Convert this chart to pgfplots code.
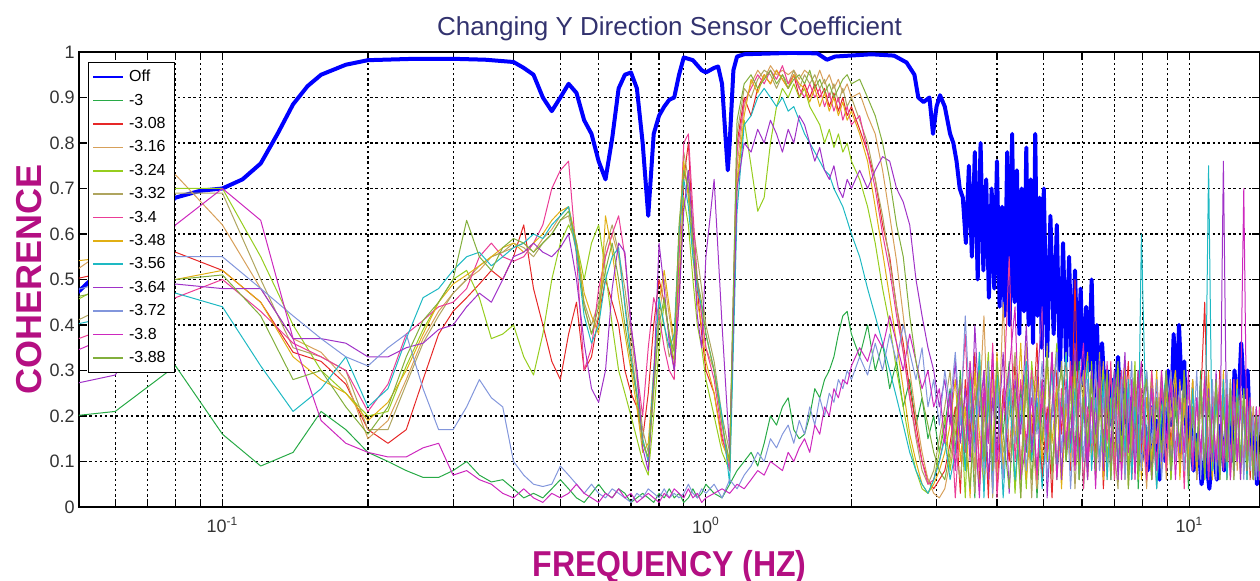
\documentclass[border=0pt]{standalone}
\usepackage{pgfplots}
\usepackage{pgfplotstable}
\usepackage{fontspec}
\setmainfont{Liberation Sans}
\pgfplotsset{compat=1.18}
\definecolor{offc}{RGB}{0,0,255}
\definecolor{ca}{RGB}{40,170,70}
\definecolor{cb}{RGB}{230,40,40}
\definecolor{cc}{RGB}{215,160,90}
\definecolor{cd}{RGB}{150,205,30}
\definecolor{ce}{RGB}{175,165,95}
\definecolor{cf}{RGB}{235,60,150}
\definecolor{cg}{RGB}{225,175,20}
\definecolor{ch}{RGB}{30,185,195}
\definecolor{ci}{RGB}{160,50,200}
\definecolor{cj}{RGB}{130,150,220}
\definecolor{ck}{RGB}{205,40,190}
\definecolor{cl}{RGB}{130,175,60}
\definecolor{labc}{RGB}{180,15,130}
\definecolor{titc}{RGB}{50,50,110}

\pgfplotstableread{
f y
0.05 0.47
0.06 0.55
0.07 0.62
0.08 0.68
0.09 0.695
0.10 0.70
0.11 0.72
0.12 0.755
0.13 0.82
0.14 0.885
0.15 0.925
0.16 0.95
0.18 0.972
0.20 0.982
0.25 0.985
0.30 0.985
0.35 0.983
0.40 0.978
0.42 0.965
0.44 0.95
0.46 0.90
0.48 0.87
0.50 0.90
0.52 0.93
0.54 0.91
0.56 0.85
0.58 0.82
0.60 0.76
0.62 0.72
0.64 0.81
0.66 0.92
0.68 0.95
0.70 0.955
0.72 0.92
0.74 0.80
0.76 0.64
0.78 0.82
0.80 0.86
0.82 0.88
0.84 0.895
0.86 0.90
0.88 0.95
0.90 0.988
0.94 0.982
0.98 0.96
1.00 0.955
1.04 0.965
1.06 0.968
1.08 0.93
1.10 0.80
1.11 0.74
1.12 0.80
1.14 0.96
1.16 0.99
1.20 0.995
1.50 0.998
1.70 0.997
1.78 0.983
1.85 0.99
2.20 0.995
2.45 0.992
2.60 0.977
2.70 0.95
2.75 0.90
2.82 0.89
2.90 0.90
2.95 0.82
3.00 0.88
3.05 0.905
3.12 0.88
3.20 0.82
3.25 0.80
3.30 0.76
3.35 0.70
3.40 0.68
3.45 0.58
3.50 0.75
3.55 0.55
3.60 0.78
3.65 0.50
3.70 0.80
3.75 0.52
3.80 0.72
3.85 0.46
3.90 0.70
3.95 0.48
4.00 0.76
4.05 0.44
4.10 0.66
4.15 0.42
4.20 0.78
4.25 0.40
4.30 0.82
4.35 0.45
4.40 0.74
4.45 0.38
4.50 0.70
4.55 0.43
4.60 0.79
4.65 0.40
4.70 0.72
4.75 0.36
4.80 0.82
4.85 0.42
4.90 0.68
4.95 0.35
5.00 0.70
5.08 0.33
5.16 0.64
5.24 0.38
5.32 0.62
5.40 0.30
5.48 0.58
5.56 0.32
5.64 0.55
5.72 0.28
5.80 0.52
5.88 0.30
5.96 0.48
6.04 0.27
6.12 0.44
6.20 0.30
6.28 0.50
6.36 0.24
6.44 0.40
6.52 0.22
6.60 0.36
6.68 0.25
6.76 0.30
6.84 0.18
6.92 0.28
7.00 0.20
7.12 0.33
7.24 0.16
7.36 0.27
7.48 0.14
7.60 0.24
7.72 0.12
7.84 0.20
7.96 0.10
8.08 0.18
8.20 0.08
8.32 0.22
8.44 0.12
8.56 0.19
8.68 0.06
8.80 0.24
8.92 0.10
9.04 0.30
9.16 0.18
9.28 0.38
9.40 0.22
9.52 0.40
9.64 0.26
9.76 0.32
9.88 0.14
10.0 0.22
10.2 0.08
10.4 0.16
10.6 0.05
10.8 0.12
11.0 0.04
11.2 0.14
11.4 0.06
11.6 0.18
11.8 0.08
12.0 0.22
12.2 0.10
12.4 0.30
12.6 0.20
12.8 0.36
13.0 0.24
13.2 0.30
13.4 0.12
13.6 0.18
13.8 0.05
14.0 0.10
}\offdata

\pgfplotstableread{
f s1 s2 s3 s4 s5 s6 s7 s8 s9 s10 s11 s12
0.04 0.19 0.48 0.45 0.40 0.36 0.33 0.53 0.38 0.25 0.45 0.30 0.44
0.06 0.21 0.52 0.58 0.50 0.45 0.40 0.55 0.42 0.29 0.50 0.38 0.48
0.08 0.31 0.56 0.73 0.70 0.69 0.46 0.50 0.47 0.49 0.55 0.62 0.50
0.10 0.16 0.52 0.62 0.70 0.69 0.50 0.52 0.44 0.48 0.55 0.70 0.51
0.12 0.09 0.45 0.48 0.55 0.50 0.43 0.45 0.31 0.48 0.48 0.63 0.42
0.14 0.12 0.34 0.37 0.40 0.35 0.36 0.33 0.21 0.37 0.42 0.37 0.28
0.16 0.21 0.32 0.34 0.30 0.33 0.33 0.28 0.26 0.37 0.37 0.19 0.30
0.18 0.17 0.27 0.28 0.25 0.30 0.30 0.25 0.33 0.36 0.33 0.14 0.22
0.20 0.12 0.17 0.15 0.20 0.17 0.21 0.19 0.22 0.33 0.31 0.12 0.16
0.22 0.10 0.14 0.19 0.21 0.17 0.27 0.23 0.26 0.33 0.35 0.11 0.22
0.24 0.08 0.17 0.28 0.31 0.27 0.38 0.30 0.37 0.35 0.38 0.11 0.33
0.26 0.065 0.28 0.37 0.39 0.36 0.41 0.38 0.46 0.36 0.26 0.13 0.41
0.28 0.065 0.38 0.43 0.45 0.42 0.44 0.45 0.48 0.39 0.17 0.14 0.45
0.30 0.08 0.43 0.47 0.50 0.47 0.45 0.49 0.52 0.40 0.17 0.07 0.50
0.32 0.10 0.46 0.50 0.52 0.50 0.48 0.51 0.55 0.44 0.22 0.08 0.63
0.34 0.07 0.49 0.52 0.46 0.53 0.55 0.53 0.56 0.47 0.28 0.06 0.55
0.36 0.055 0.52 0.55 0.37 0.55 0.58 0.55 0.53 0.45 0.24 0.05 0.52
0.38 0.06 0.50 0.56 0.38 0.56 0.55 0.57 0.55 0.50 0.22 0.03 0.57
0.40 0.04 0.55 0.57 0.40 0.58 0.54 0.58 0.57 0.55 0.10 0.02 0.59
0.42 0.02 0.62 0.58 0.33 0.57 0.55 0.56 0.58 0.56 0.07 0.04 0.58
0.44 0.03 0.48 0.56 0.29 0.55 0.58 0.58 0.60 0.58 0.05 0.02 0.56
0.46 0.02 0.40 0.59 0.38 0.58 0.62 0.60 0.59 0.56 0.045 0.01 0.58
0.48 0.04 0.32 0.61 0.50 0.60 0.70 0.63 0.62 0.55 0.05 0.03 0.60
0.50 0.06 0.28 0.64 0.58 0.63 0.74 0.65 0.64 0.57 0.09 0.02 0.63
0.52 0.04 0.38 0.66 0.62 0.64 0.76 0.66 0.66 0.60 0.07 0.03 0.65
0.54 0.02 0.45 0.58 0.58 0.56 0.55 0.58 0.56 0.50 0.05 0.05 0.58
0.56 0.01 0.30 0.44 0.50 0.45 0.30 0.47 0.42 0.36 0.03 0.03 0.44
0.58 0.03 0.33 0.38 0.58 0.40 0.35 0.42 0.36 0.26 0.05 0.02 0.38
0.60 0.05 0.42 0.42 0.62 0.45 0.48 0.38 0.40 0.23 0.03 0.01 0.44
0.62 0.03 0.50 0.55 0.52 0.57 0.55 0.64 0.50 0.30 0.02 0.03 0.52
0.64 0.02 0.45 0.60 0.40 0.62 0.60 0.56 0.55 0.48 0.04 0.02 0.58
0.66 0.04 0.40 0.55 0.30 0.56 0.64 0.46 0.57 0.58 0.03 0.04 0.50
0.68 0.03 0.30 0.45 0.25 0.48 0.55 0.38 0.44 0.56 0.02 0.02 0.40
0.70 0.01 0.25 0.35 0.20 0.38 0.40 0.30 0.33 0.40 0.01 0.03 0.32
0.72 0.02 0.22 0.25 0.15 0.28 0.30 0.22 0.25 0.30 0.03 0.01 0.24
0.74 0.03 0.15 0.15 0.10 0.17 0.20 0.12 0.15 0.13 0.02 0.02 0.14
0.76 0.02 0.25 0.10 0.07 0.12 0.35 0.14 0.10 0.08 0.04 0.03 0.11
0.78 0.01 0.40 0.25 0.20 0.28 0.46 0.30 0.30 0.28 0.03 0.02 0.26
0.80 0.03 0.50 0.42 0.35 0.45 0.42 0.45 0.46 0.58 0.02 0.01 0.40
0.82 0.02 0.45 0.50 0.45 0.40 0.35 0.52 0.40 0.48 0.04 0.03 0.46
0.84 0.04 0.38 0.42 0.38 0.33 0.30 0.44 0.35 0.36 0.02 0.02 0.38
0.86 0.02 0.30 0.35 0.32 0.36 0.28 0.36 0.38 0.30 0.03 0.04 0.34
0.88 0.03 0.45 0.55 0.50 0.58 0.55 0.60 0.60 0.45 0.02 0.03 0.62
0.90 0.01 0.72 0.75 0.68 0.78 0.80 0.76 0.72 0.65 0.03 0.02 0.74
0.92 0.02 0.80 0.70 0.62 0.72 0.82 0.68 0.66 0.74 0.05 0.04 0.70
0.94 0.04 0.60 0.58 0.50 0.62 0.65 0.55 0.55 0.60 0.03 0.02 0.58
0.96 0.02 0.48 0.50 0.40 0.55 0.50 0.45 0.48 0.42 0.02 0.03 0.50
0.98 0.03 0.38 0.42 0.35 0.48 0.42 0.40 0.44 0.35 0.04 0.01 0.45
1.00 0.05 0.30 0.35 0.28 0.40 0.35 0.32 0.38 0.55 0.03 0.02 0.38
1.04 0.03 0.25 0.30 0.20 0.32 0.28 0.25 0.30 0.72 0.05 0.03 0.30
1.08 0.02 0.15 0.18 0.12 0.20 0.16 0.14 0.20 0.40 0.02 0.04 0.18
1.12 0.05 0.10 0.09 0.08 0.12 0.08 0.10 0.05 0.12 0.06 0.03 0.10
1.16 0.08 0.80 0.75 0.70 0.82 0.78 0.72 0.65 0.70 0.04 0.05 0.85
1.20 0.10 0.90 0.88 0.85 0.92 0.89 0.86 0.84 0.80 0.07 0.04 0.93
1.24 0.12 0.86 0.93 0.75 0.90 0.92 0.94 0.86 0.78 0.09 0.06 0.95
1.28 0.09 0.92 0.96 0.65 0.94 0.95 0.91 0.90 0.83 0.12 0.08 0.92
1.32 0.14 0.95 0.94 0.68 0.96 0.93 0.95 0.92 0.80 0.10 0.07 0.94
1.36 0.20 0.93 0.97 0.80 0.95 0.96 0.93 0.90 0.85 0.15 0.10 0.96
1.40 0.18 0.96 0.95 0.88 0.92 0.94 0.96 0.88 0.82 0.13 0.09 0.93
1.44 0.22 0.94 0.96 0.92 0.95 0.97 0.94 0.90 0.78 0.16 0.08 0.95
1.48 0.24 0.92 0.95 0.90 0.93 0.93 0.92 0.87 0.83 0.18 0.12 0.92
1.52 0.17 0.95 0.96 0.93 0.96 0.95 0.95 0.88 0.80 0.14 0.10 0.94
1.56 0.15 0.90 0.94 0.90 0.92 0.92 0.93 0.85 0.86 0.19 0.13 0.95
1.60 0.16 0.93 0.96 0.92 0.95 0.90 0.92 0.82 0.84 0.16 0.15 0.93
1.64 0.20 0.90 0.95 0.88 0.93 0.93 0.89 0.80 0.80 0.22 0.12 0.96
1.68 0.26 0.93 0.93 0.86 0.95 0.90 0.92 0.78 0.76 0.18 0.18 0.92
1.72 0.24 0.90 0.96 0.84 0.92 0.92 0.88 0.76 0.79 0.24 0.16 0.94
1.76 0.28 0.92 0.93 0.80 0.94 0.88 0.91 0.74 0.74 0.20 0.22 0.91
1.80 0.30 0.88 0.95 0.83 0.90 0.91 0.87 0.73 0.72 0.25 0.20 0.93
1.84 0.33 0.91 0.92 0.79 0.93 0.87 0.90 0.70 0.75 0.23 0.26 0.90
1.88 0.38 0.87 0.94 0.82 0.89 0.90 0.86 0.68 0.70 0.28 0.24 0.92
1.92 0.42 0.90 0.91 0.78 0.92 0.85 0.89 0.66 0.68 0.26 0.28 0.94
1.96 0.43 0.86 0.93 0.80 0.88 0.88 0.85 0.63 0.72 0.30 0.27 0.95
2.00 0.38 0.88 0.90 0.76 0.90 0.84 0.87 0.60 0.70 0.28 0.31 0.93
2.08 0.33 0.83 0.91 0.72 0.85 0.86 0.82 0.55 0.74 0.33 0.35 0.94
2.16 0.40 0.78 0.86 0.66 0.80 0.78 0.76 0.48 0.70 0.29 0.32 0.90
2.24 0.30 0.72 0.82 0.58 0.72 0.70 0.66 0.42 0.74 0.36 0.38 0.86
2.32 0.36 0.62 0.74 0.48 0.64 0.60 0.56 0.36 0.77 0.30 0.35 0.80
2.40 0.26 0.55 0.64 0.40 0.54 0.52 0.46 0.30 0.76 0.38 0.42 0.72
2.48 0.32 0.44 0.54 0.30 0.44 0.42 0.36 0.24 0.70 0.32 0.36 0.62
2.56 0.22 0.36 0.42 0.22 0.34 0.34 0.26 0.18 0.67 0.40 0.30 0.55
2.64 0.28 0.26 0.30 0.14 0.24 0.24 0.16 0.12 0.62 0.34 0.38 0.42
2.72 0.18 0.18 0.20 0.08 0.15 0.16 0.10 0.08 0.50 0.28 0.32 0.32
2.80 0.24 0.10 0.12 0.04 0.08 0.10 0.05 0.05 0.42 0.35 0.26 0.24
2.88 0.15 0.06 0.06 0.03 0.05 0.05 0.03 0.03 0.35 0.22 0.30 0.18
2.96 0.20 0.04 0.03 0.06 0.08 0.06 0.05 0.06 0.30 0.28 0.22 0.12
3.04 0.12 0.06 0.02 0.12 0.15 0.10 0.08 0.10 0.22 0.18 0.26 0.08
3.12 0.18 0.08 0.04 0.20 0.22 0.16 0.12 0.15 0.28 0.30 0.14 0.06
3.20 0.26 0.14 0.10 0.08 0.30 0.24 0.18 0.06 0.18 0.22 0.25 0.12
3.28 0.12 0.22 0.18 0.16 0.12 0.02 0.28 0.12 0.32 0.34 0.08 0.20
3.36 0.30 0.03 0.26 0.24 0.06 0.20 0.10 0.22 0.14 0.18 0.28 0.28
3.44 0.08 0.28 0.12 0.02 0.18 0.38 0.22 0.08 0.26 0.42 0.12 0.14
3.52 0.22 0.16 0.32 0.30 0.26 0.12 0.02 0.28 0.10 0.20 0.32 0.04
3.60 0.02 0.34 0.08 0.14 0.03 0.26 0.30 0.14 0.40 0.12 0.18 0.22
3.68 0.34 0.06 0.22 0.04 0.32 0.08 0.16 0.34 0.20 0.28 0.02 0.30
3.76 0.10 0.24 0.42 0.20 0.14 0.30 0.04 0.02 0.30 0.08 0.26 0.10
3.84 0.28 0.02 0.14 0.34 0.24 0.14 0.26 0.24 0.06 0.32 0.14 0.26
3.92 0.06 0.30 0.28 0.12 0.02 0.36 0.12 0.04 0.24 0.03 0.34 0.08
4.00 0.24 0.04 0.06 0.26 0.28 0.02 0.34 0.30 0.12 0.26 0.10 0.32
4.12 0.16 0.26 0.45 0.08 0.12 0.22 0.08 0.02 0.34 0.06 0.22 0.16
4.24 0.32 0.10 0.12 0.30 0.20 0.55 0.24 0.26 0.03 0.30 0.30 0.04
4.36 0.04 0.32 0.24 0.03 0.34 0.10 0.14 0.06 0.28 0.14 0.44 0.26
4.48 0.26 0.08 0.02 0.24 0.08 0.28 0.36 0.20 0.16 0.24 0.06 0.02
4.60 0.12 0.28 0.36 0.04 0.26 0.14 0.06 0.32 0.40 0.08 0.14 0.30
4.72 0.30 0.14 0.16 0.32 0.02 0.30 0.20 0.10 0.12 0.28 0.24 0.06
4.84 0.02 0.36 0.04 0.18 0.30 0.06 0.28 0.24 0.26 0.16 0.08 0.22
4.96 0.22 0.06 0.26 0.28 0.14 0.24 0.10 0.04 0.44 0.32 0.28 0.14
5.08 0.14 0.22 0.12 0.10 0.36 0.12 0.32 0.18 0.02 0.06 0.16 0.34
5.20 0.34 0.02 0.32 0.22 0.06 0.34 0.14 0.30 0.22 0.20 0.34 0.08
5.32 0.06 0.30 0.08 0.36 0.20 0.08 0.26 0.08 0.34 0.34 0.06 0.24
5.44 0.24 0.16 0.22 0.06 0.32 0.26 0.04 0.22 0.06 0.12 0.22 0.30
5.56 0.10 0.34 0.34 0.24 0.12 0.14 0.22 0.34 0.28 0.26 0.12 0.10
5.68 0.28 0.08 0.10 0.14 0.26 0.32 0.12 0.12 0.14 0.04 0.30 0.20
5.80 0.12 0.50 0.24 0.30 0.04 0.10 0.30 0.26 0.36 0.22 0.08 0.32
5.92 0.32 0.12 0.06 0.08 0.22 0.28 0.06 0.06 0.10 0.30 0.26 0.06
6.04 0.04 0.26 0.28 0.26 0.30 0.04 0.24 0.20 0.24 0.10 0.36 0.24
6.16 0.20 0.06 0.14 0.12 0.10 0.22 0.34 0.32 0.06 0.28 0.10 0.14
6.28 0.30 0.24 0.30 0.32 0.24 0.12 0.10 0.08 0.30 0.14 0.24 0.28
6.40 0.08 0.12 0.08 0.06 0.14 0.30 0.22 0.24 0.16 0.32 0.04 0.08
6.52 0.26 0.32 0.20 0.22 0.34 0.08 0.30 0.10 0.32 0.08 0.28 0.26
6.64 0.12 0.04 0.32 0.30 0.08 0.24 0.06 0.28 0.08 0.22 0.14 0.12
6.76 0.28 0.20 0.06 0.10 0.22 0.14 0.26 0.06 0.26 0.30 0.32 0.30
6.88 0.06 0.30 0.22 0.24 0.30 0.32 0.12 0.22 0.12 0.06 0.08 0.06
7.00 0.24 0.10 0.30 0.06 0.12 0.06 0.28 0.30 0.30 0.24 0.20 0.22
7.12 0.14 0.26 0.10 0.28 0.04 0.20 0.08 0.08 0.06 0.14 0.30 0.32
7.24 0.30 0.08 0.24 0.12 0.26 0.30 0.22 0.24 0.22 0.28 0.06 0.10
7.36 0.08 0.22 0.06 0.30 0.10 0.10 0.32 0.12 0.34 0.06 0.24 0.26
7.48 0.22 0.32 0.26 0.08 0.28 0.24 0.04 0.28 0.12 0.20 0.12 0.04
7.60 0.10 0.06 0.12 0.20 0.14 0.08 0.20 0.06 0.26 0.32 0.28 0.20
7.72 0.26 0.20 0.30 0.32 0.24 0.28 0.12 0.22 0.08 0.10 0.06 0.30
7.84 0.04 0.30 0.08 0.06 0.08 0.12 0.28 0.10 0.30 0.26 0.22 0.08
7.96 0.20 0.12 0.22 0.26 0.32 0.26 0.06 0.60 0.14 0.08 0.32 0.22
8.16 0.30 0.24 0.04 0.12 0.12 0.06 0.24 0.12 0.28 0.30 0.10 0.28
8.36 0.08 0.06 0.28 0.30 0.22 0.30 0.10 0.26 0.06 0.14 0.26 0.06
8.56 0.24 0.28 0.14 0.08 0.04 0.14 0.30 0.04 0.24 0.28 0.08 0.24
8.76 0.12 0.10 0.30 0.22 0.28 0.26 0.08 0.20 0.10 0.06 0.30 0.12
8.96 0.30 0.30 0.06 0.28 0.10 0.08 0.26 0.30 0.30 0.22 0.14 0.30
9.16 0.06 0.14 0.22 0.06 0.24 0.30 0.12 0.08 0.08 0.30 0.28 0.08
9.36 0.22 0.26 0.10 0.24 0.30 0.12 0.30 0.24 0.26 0.10 0.06 0.24
9.56 0.10 0.08 0.28 0.12 0.08 0.26 0.06 0.12 0.12 0.26 0.24 0.14
9.76 0.28 0.30 0.12 0.30 0.22 0.04 0.24 0.30 0.30 0.08 0.12 0.30
9.96 0.04 0.12 0.26 0.08 0.12 0.28 0.10 0.06 0.06 0.28 0.30 0.06
10.16 0.22 0.28 0.08 0.26 0.28 0.10 0.28 0.26 0.22 0.12 0.08 0.22
10.36 0.12 0.06 0.24 0.10 0.06 0.24 0.08 0.10 0.10 0.30 0.24 0.10
10.56 0.30 0.24 0.10 0.28 0.24 0.08 0.26 0.28 0.28 0.06 0.12 0.28
10.76 0.06 0.45 0.28 0.08 0.10 0.30 0.10 0.06 0.08 0.24 0.28 0.06
10.96 0.24 0.10 0.06 0.24 0.28 0.12 0.30 0.75 0.26 0.10 0.06 0.24
11.16 0.10 0.26 0.22 0.06 0.08 0.26 0.06 0.08 0.10 0.28 0.22 0.12
11.36 0.28 0.08 0.10 0.28 0.26 0.06 0.24 0.24 0.30 0.06 0.10 0.28
11.56 0.06 0.30 0.28 0.10 0.06 0.28 0.08 0.10 0.08 0.24 0.26 0.06
11.76 0.24 0.10 0.08 0.26 0.24 0.10 0.30 0.28 0.76 0.10 0.08 0.22
11.96 0.12 0.28 0.24 0.06 0.10 0.24 0.06 0.06 0.10 0.30 0.24 0.10
12.16 0.28 0.06 0.10 0.24 0.28 0.08 0.22 0.22 0.26 0.08 0.06 0.26
12.36 0.06 0.22 0.26 0.10 0.06 0.28 0.10 0.08 0.08 0.24 0.28 0.08
12.56 0.22 0.10 0.08 0.28 0.22 0.10 0.28 0.26 0.22 0.10 0.10 0.24
12.76 0.10 0.26 0.24 0.08 0.08 0.22 0.06 0.10 0.06 0.26 0.22 0.10
12.96 0.26 0.08 0.10 0.22 0.24 0.08 0.24 0.22 0.24 0.06 0.70 0.26
13.16 0.08 0.24 0.26 0.10 0.06 0.26 0.08 0.06 0.08 0.22 0.10 0.08
13.36 0.22 0.06 0.08 0.24 0.22 0.10 0.22 0.24 0.22 0.08 0.24 0.22
13.56 0.06 0.22 0.22 0.06 0.08 0.20 0.06 0.08 0.06 0.20 0.08 0.06
13.76 0.20 0.08 0.06 0.20 0.22 0.06 0.20 0.22 0.20 0.06 0.22 0.20
13.96 0.06 0.20 0.20 0.08 0.06 0.22 0.08 0.06 0.08 0.20 0.06 0.08
14.16 0.18 0.06 0.08 0.20 0.20 0.08 0.22 0.20 0.22 0.08 0.20 0.18
}\cohdata

\begin{document}
\begin{tikzpicture}
\useasboundingbox (-39.5pt,-37pt) rectangle (590.5pt,253.5pt);
\begin{axis}[
  at={(0pt,0pt)}, anchor=south west,
  scale only axis, width=590.5pt, height=227.5pt,
  xmode=log, xmin=0.0505, xmax=14, ymin=0, ymax=1,
  xtick={0.1,1,10},
  xticklabels={10\textsuperscript{-1},10\textsuperscript{0},10\textsuperscript{1}},
  minor xtick={0.06,0.07,0.08,0.09,0.2,0.3,0.4,0.5,0.6,0.7,0.8,0.9,2,3,4,5,6,7,8,9},
  ytick={0,0.1,0.2,0.3,0.4,0.5,0.6,0.7,0.8,0.9,1},
  yticklabels={0,0.1,0.2,0.3,0.4,0.5,0.6,0.7,0.8,0.9,1},
  tick label style={font=\fontsize{9}{10}\selectfont, text=black!80},
  yticklabel style={inner sep=1pt, xshift=-1pt},
  xticklabel style={yshift=-1.5pt},
  grid=both,
  major grid style={black, dash pattern=on 1.2pt off 1.4pt, line width=0.55pt},
  minor grid style={black, dash pattern=on 1.2pt off 1.4pt, line width=0.55pt},
  major tick length=4pt, minor tick length=4pt,
  tick style={black, line width=0.6pt},
  axis line style={black, line width=0.7pt},
  no markers,
  every axis plot/.append style={line join=round},
  title={Changing Y Direction Sensor Coefficient},
  title style={at={(axis description cs:0.5,1)}, anchor=south, yshift=-0.5pt, inner sep=0pt,
    font=\fontsize{13}{15}\selectfont, text=titc},
  xlabel={\scalebox{0.89}[1]{FREQUENCY (HZ)}},
  xlabel style={at={(axis description cs:0.5,-0.0945)}, anchor=north, inner sep=0pt,
    font=\fontsize{18}{20}\selectfont\bfseries, text=labc},
  ylabel={COHERENCE},
  ylabel style={at={(axis description cs:-0.0313,0.5)}, anchor=south, rotate=0, inner sep=0pt,
    font=\fontsize{18}{20}\selectfont\bfseries, text=labc},
  legend image code/.code={\draw[#1, line width=0.8pt] (0pt,0pt) -- (15pt,0pt);},
  legend style={at={(0.0076,0.978)}, anchor=north west, draw=black, line width=0.6pt,
    fill=white, font=\fontsize{8}{9}\selectfont, inner sep=2pt, row sep=1.2pt,
    nodes={inner ysep=1.5pt, inner xsep=2.5pt, text height=6pt, text depth=1.5pt}},
  legend cell align=left,
]
\addplot[offc, line width=2pt] table[x=f,y=y]{\offdata};
\addlegendentry{Off}
\addplot[ca, line width=0.5pt] table[x=f,y=s1]{\cohdata};
\addlegendentry{-3}
\addplot[cb, line width=0.5pt] table[x=f,y=s2]{\cohdata};
\addlegendentry{-3.08}
\addplot[cc, line width=0.5pt] table[x=f,y=s3]{\cohdata};
\addlegendentry{-3.16}
\addplot[cd, line width=0.5pt] table[x=f,y=s4]{\cohdata};
\addlegendentry{-3.24}
\addplot[ce, line width=0.5pt] table[x=f,y=s5]{\cohdata};
\addlegendentry{-3.32}
\addplot[cf, line width=0.5pt] table[x=f,y=s6]{\cohdata};
\addlegendentry{-3.4}
\addplot[cg, line width=0.5pt] table[x=f,y=s7]{\cohdata};
\addlegendentry{-3.48}
\addplot[ch, line width=0.5pt] table[x=f,y=s8]{\cohdata};
\addlegendentry{-3.56}
\addplot[ci, line width=0.5pt] table[x=f,y=s9]{\cohdata};
\addlegendentry{-3.64}
\addplot[cj, line width=0.5pt] table[x=f,y=s10]{\cohdata};
\addlegendentry{-3.72}
\addplot[ck, line width=0.5pt] table[x=f,y=s11]{\cohdata};
\addlegendentry{-3.8}
\addplot[cl, line width=0.5pt] table[x=f,y=s12]{\cohdata};
\addlegendentry{-3.88}
\end{axis}
\end{tikzpicture}
\end{document}
